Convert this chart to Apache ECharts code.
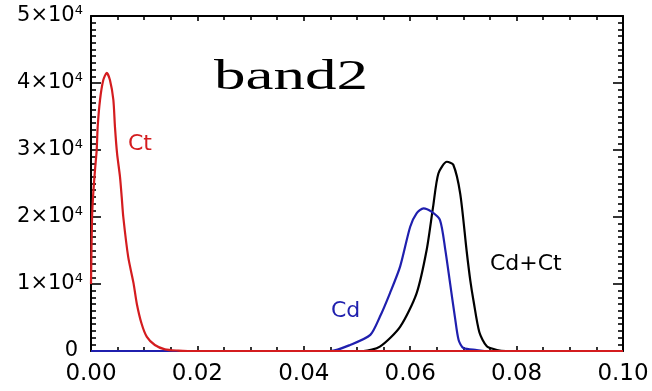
<!DOCTYPE html>
<html>
<head>
<meta charset="utf-8">
<script src="https://cdn.jsdelivr.net/npm/echarts@6/dist/echarts.min.js"></script>
<style>html,body{margin:0;padding:0;background:#fff}#c{width:652px;height:391px}</style>
</head>
<body>
<div id="c"></div>
<script>
// ---- data ----
const ctX = [0, 0.0002, 0.00043, 0.00075, 0.00107, 0.00126, 0.0017, 0.0023, 0.00295, 0.00357, 0.0042, 0.0045, 0.0049, 0.00545, 0.00577, 0.00607, 0.0070, 0.0080, 0.0086, 0.0095, 0.0105, 0.012, 0.0139, 0.0164, 0.0182, 0.1];
const ctY = [10000, 20000, 23600, 27000, 30000, 33500, 37500, 40400, 41500, 40400, 37500, 33500, 29500, 26000, 23000, 20000, 14000, 10100, 7100, 4100, 2100, 900, 250, 50, 0, 0];

const cdX = [0, 0.045, 0.0487, 0.0525, 0.0543, 0.0562, 0.0581, 0.0600, 0.0612, 0.0625, 0.0640, 0.0656, 0.0666, 0.0675, 0.0684, 0.0691, 0.0700, 0.0725, 0.074, 0.1];
const cdY = [0, 0, 900, 2400, 5100, 8650, 12600, 18550, 20550, 21300, 20800, 19550, 15100, 10100, 5100, 1640, 450, 150, 0, 0];

const cdctX = [0, 0.0512, 0.0543, 0.0581, 0.0612, 0.0631, 0.0643, 0.0653, 0.0669, 0.0681, 0.0694, 0.0706, 0.0713, 0.0719, 0.0730, 0.0744, 0.0763, 0.078, 0.1];
const cdctY = [0, 0, 650, 3600, 8600, 15100, 21500, 26500, 28250, 27800, 23500, 15000, 10500, 7500, 2800, 700, 150, 0, 0];

const xTickLabels = ['0.00', '0.02', '0.04', '0.06', '0.08', '0.10'];
const yTickMantissa = ['0', '1', '2', '3', '4', '5'];
const yTickExp = '4';

const seriesNames = ['Cd+Ct', 'Cd', 'Ct'];
const titleText = 'band2';

// ---- chart ----
const RED = '#d41c1f', BLUE = '#1f1fae', BLACK = '#000000';
const pairs = (xs, ys) => xs.map((x, i) => [x, ys[i]]);
const chart = echarts.init(document.getElementById('c'), null, {renderer: 'canvas'});

const tickStyle = {color: BLACK, width: 1.6};
function xAxisDef(pos, showLabel) {
  return {
    type: 'value', position: pos, min: 0, max: 0.1, interval: 0.02,
    axisLine: {show: true, onZero: false, lineStyle: {color: BLACK, width: 2}},
    axisTick: {show: true, inside: true, length: 5, lineStyle: tickStyle},
    minorTick: {show: true, splitNumber: 4, length: 4, lineStyle: tickStyle},
    splitLine: {show: false},
    axisLabel: {show: showLabel, margin: 12, color: BLACK, fontFamily: 'DejaVu Sans', fontSize: 23,
      formatter: v => xTickLabels[Math.round(v / 0.02)]}
  };
}
function yAxisDef(pos, showLabel) {
  return {
    type: 'value', position: pos, min: 0, max: 50000, interval: 10000,
    axisLine: {show: true, onZero: false, lineStyle: {color: BLACK, width: 2}},
    axisTick: {show: true, inside: true, length: 10, lineStyle: tickStyle},
    minorTick: {show: true, splitNumber: 10, length: 5, lineStyle: tickStyle},
    splitLine: {show: false},
    axisLabel: {show: showLabel, margin: 8, color: BLACK,
      formatter: v => {
        const i = Math.round(v / 10000);
        return i === 0 ? '{z|0}' : '{a|' + yTickMantissa[i] + '×10}{s|' + yTickExp + '}';
      },
      rich: {
        a: {fontFamily: 'DejaVu Sans', fontSize: 21, color: BLACK, lineHeight: 24},
        z: {fontFamily: 'DejaVu Sans', fontSize: 21, color: BLACK, lineHeight: 24, padding: [0, 5, 0, 0]},
        s: {fontFamily: 'DejaVu Sans', fontSize: 13, color: BLACK, lineHeight: 24, verticalAlign: 'top', padding: [0, 0, 12, 0]}
      }
    }
  };
}

const lineSeries = (name, data, color, z) => ({
  name, type: 'line', data, showSymbol: false, symbol: 'none',
  smooth: 0.25,
  lineStyle: {color, width: 2.2}, z, animation: false, xAxisIndex: 0, yAxisIndex: 0
});

const labelFont = '22px "DejaVu Sans"';
chart.setOption({
  animation: false,
  backgroundColor: '#ffffff',
  grid: {left: 91, right: 29, top: 16, bottom: 40, containLabel: false},
  xAxis: [xAxisDef('bottom', true), xAxisDef('top', false)],
  yAxis: [yAxisDef('left', true), yAxisDef('right', false)],
  series: [
    lineSeries(seriesNames[0], pairs(cdctX, cdctY), BLACK, 2),
    lineSeries(seriesNames[1], pairs(cdX, cdY), BLUE, 3),
    lineSeries(seriesNames[2], pairs(ctX, ctY), RED, 4)
  ],
  graphic: [
    {type: 'text', x: 214, y: 57, scaleX: 1.5, z: 10,
      style: {text: titleText, font: '42px "Liberation Serif"', fill: BLACK, verticalAlign: 'top'}},
    {type: 'text', x: 128, y: 144, z: 10,
      style: {text: seriesNames[2], font: labelFont, fill: RED, verticalAlign: 'middle'}},
    {type: 'text', x: 331, y: 311, z: 10,
      style: {text: seriesNames[1], font: labelFont, fill: BLUE, verticalAlign: 'middle'}},
    {type: 'text', x: 490, y: 264, z: 10,
      style: {text: seriesNames[0], font: labelFont, fill: BLACK, verticalAlign: 'middle'}}
  ]
});
</script>
</body>
</html>
